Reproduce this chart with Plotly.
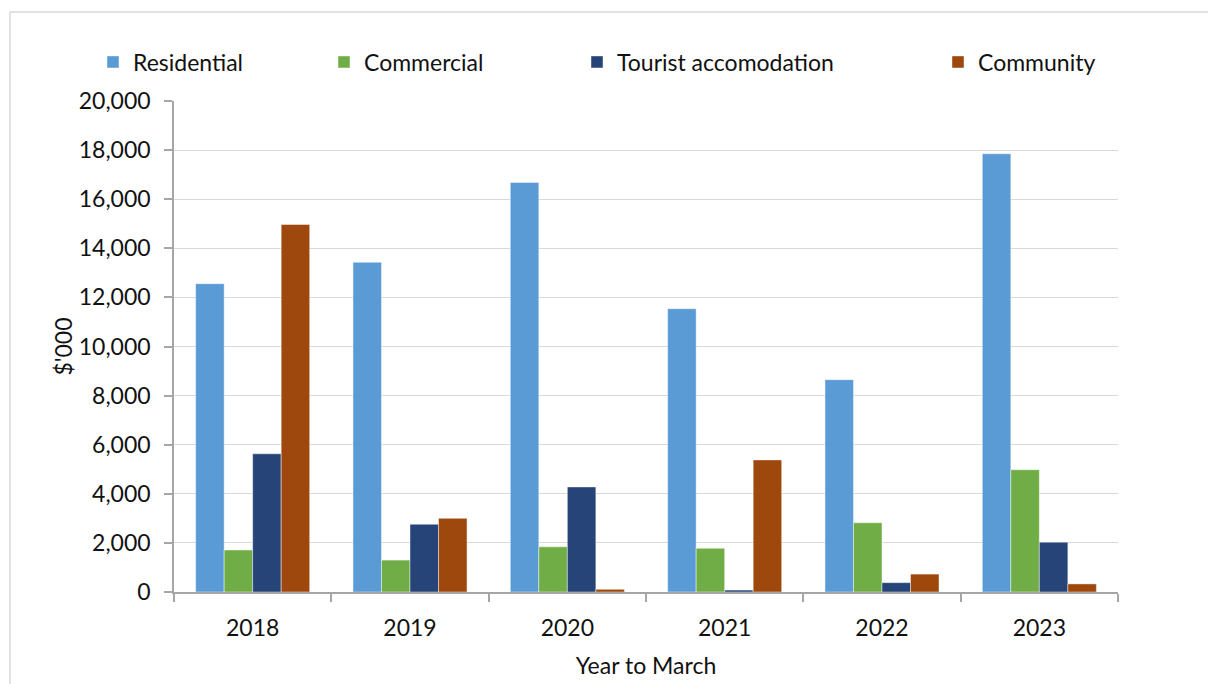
import plotly.graph_objects as go

# Building consents value by type, $'000, years to March
years = ["2018", "2019", "2020", "2021", "2022", "2023"]
residential = [12560, 13430, 16680, 11540, 8650, 17850]
commercial = [1710, 1300, 1840, 1780, 2820, 4980]
tourist = [5630, 2760, 4280, 80, 380, 2030]
community = [14970, 3000, 110, 5380, 730, 330]

series = [
    ("Residential", residential, "#5B9BD5", "legend", 93),
    ("Commercial", commercial, "#70AD47", "legend2", 324),
    ("Tourist accomodation", tourist, "#264478", "legend3", 577),
    ("Community", community, "#9E480E", "legend4", 938),
]

FONT = "Lato"
TXT = "#111111"

W, H = 1208, 684
L, R, T, B = 174, 90, 101, 92

fig = go.Figure()
for name, vals, color, leg, _ in series:
    fig.add_trace(go.Bar(
        x=years, y=vals, name=name, legend=leg, showlegend=True,
        marker=dict(color=color, line=dict(color="rgba(255,255,255,0.55)", width=0.8)),
    ))

legends = {}
for name, vals, color, leg, xpos in series:
    legends[leg] = dict(
        orientation="h", xref="container", yref="container",
        x=xpos / W, y=1 - 62 / H, xanchor="left", yanchor="middle",
        font=dict(family=FONT, size=23, color=TXT),
        bgcolor="rgba(0,0,0,0)", itemclick=False, itemdoubleclick=False,
    )

# outer chart border (only top and left edges fall inside the page)
pw, ph = W - L - R, H - T - B
fig.add_shape(
    type="rect", xref="paper", yref="paper",
    x0=(10 - L) / pw, x1=(W + 20 - L) / pw,
    y0=-(B + 20) / ph, y1=(H - 12 - B) / ph,
    line=dict(color="#d9d9d9", width=1.5), fillcolor="rgba(0,0,0,0)", layer="below",
)

fig.update_layout(
    width=W, height=H,
    margin=dict(l=L, r=R, t=T, b=B, autoexpand=False),
    paper_bgcolor="white", plot_bgcolor="white",
    showlegend=True,
    barmode="group", bargap=0.275, bargroupgap=0,
    font=dict(family=FONT, size=23, color=TXT),
    **legends,
)

fig.update_xaxes(
    automargin=False,
    showline=True, linecolor="#a6a6a6", linewidth=2,
    ticks="outside", tickson="boundaries", ticklen=8, tickcolor="#a6a6a6", tickwidth=2,
    ticklabelstandoff=14,
    tickfont=dict(family=FONT, size=23, color=TXT),
    title=dict(text="Year to March", font=dict(family=FONT, size=23, color=TXT), standoff=18),
    showgrid=False,
)
fig.update_yaxes(
    automargin=False,
    range=[0, 20000], dtick=2000, tickformat=",d",
    showline=True, linecolor="#a6a6a6", linewidth=1.5,
    ticks="outside", ticklen=8, tickcolor="#a6a6a6", tickwidth=1.5,
    ticklabelstandoff=9,
    showgrid=True, gridcolor="#d9d9d9", gridwidth=1,
    zeroline=False,
    tickfont=dict(family=FONT, size=23, color=TXT),
    title=dict(text="$'000", font=dict(family=FONT, size=23, color=TXT), standoff=0),
)

fig.write_html("out.html")
